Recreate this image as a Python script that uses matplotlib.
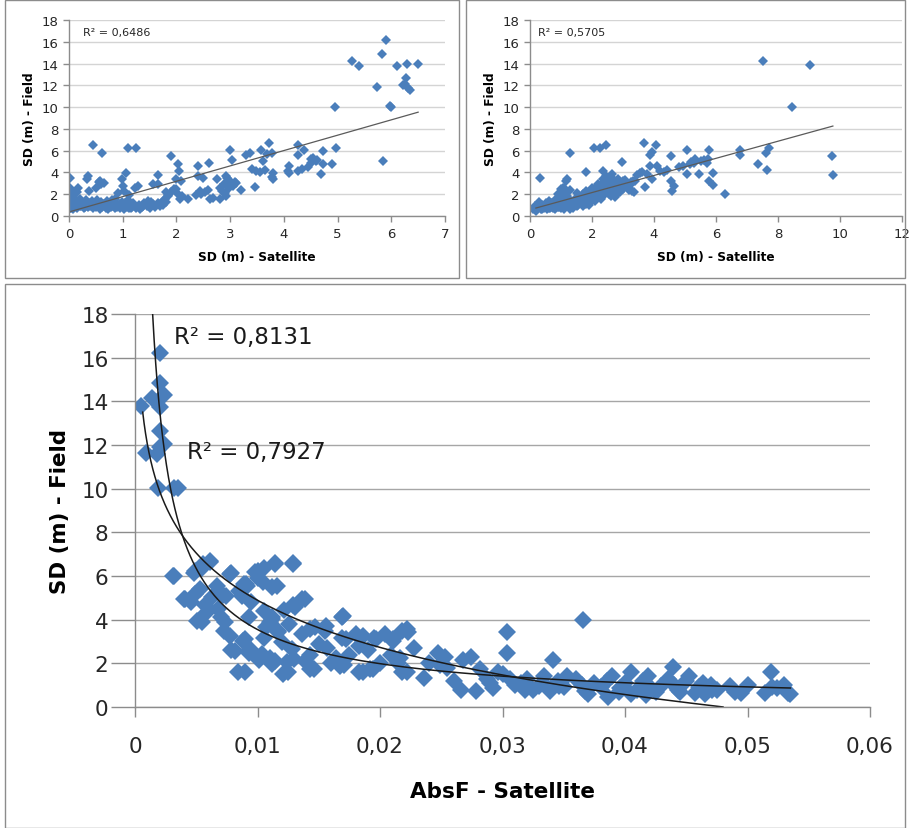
import numpy as np
import matplotlib
matplotlib.use("Agg")
import matplotlib.pyplot as plt
from matplotlib.patches import Rectangle

plt.rcParams['font.family'] = ['DejaVu Sans']

# ---------------- Panel A (top-left) ----------------
a_x = [5.91, 5.82, 5.27, 5.40, 6.10, 6.30, 6.50, 5.73, 6.27, 6.22, 6.31, 6.34, 6.25, 4.95, 5.99, 5.97, 5.85,
       4.97, 4.73, 4.70, 4.90, 4.73, 4.55, 4.60, 4.51, 4.45, 4.62, 4.50, 4.33, 4.27, 4.37, 4.27, 4.27, 4.10, 4.10, 4.08,
       3.73, 3.58, 3.61, 3.77, 3.68, 3.37, 3.29, 3.41, 3.49, 3.46, 3.65, 3.79, 3.79, 3.78, 3.55,
       3.00, 3.04, 2.93, 2.99, 3.09, 2.88, 2.81, 2.84, 2.81, 2.93, 2.68, 3.20, 2.75, 2.95, 3.05, 2.90, 3.10, 2.97,
       2.61, 2.41, 2.50, 2.40, 2.43, 2.37, 2.53, 2.62, 2.45, 2.58,
       2.03, 1.89, 2.04, 2.09, 1.99, 1.95, 2.01, 2.06, 2.22, 1.90, 1.85, 2.00, 2.10,
       1.66, 1.57, 1.81, 1.84, 1.75, 1.60, 1.47, 1.57, 1.78, 1.70, 1.65,
       1.24, 1.09, 1.22, 1.29, 1.06, 1.01, 0.98, 0.91, 1.03, 1.12, 0.85,
       0.45, 0.62, 0.01, 0.35, 0.33, 0.57, 0.60, 0.51, 0.37, 0.17, 0.01, 0.55, 0.14, 0.10, 0.65,
       0.00, 0.00, 0.00, 0.00, 0.02, 0.05, 0.05, 0.08, 0.10, 0.12, 0.15, 0.18, 0.20, 0.22, 0.25, 0.28, 0.30, 0.32,
       0.35, 0.38, 0.40, 0.42, 0.45, 0.48, 0.50, 0.52, 0.55, 0.58, 0.60, 0.62, 0.65, 0.68, 0.70, 0.72, 0.75, 0.78,
       0.80, 0.82, 0.85, 0.88, 0.90, 0.92, 0.95, 0.98, 1.00, 1.02, 1.05, 1.08, 1.10, 1.12, 1.15, 1.18, 1.20, 1.25,
       1.30, 1.35, 1.40, 1.45, 1.50, 1.55, 1.60, 1.65, 1.70, 1.75, 1.80, 0.03, 0.07, 0.12, 0.26, 0.44, 0.70, 0.95,
       1.15, 1.38, 1.52, 0.04, 0.20, 0.30, 0.88, 1.33, 1.48]
a_y = [16.16, 14.85, 14.23, 13.80, 13.80, 14.00, 14.00, 11.85, 12.64, 12.00, 11.75, 11.55, 12.10, 10.04, 10.04, 10.10, 5.05,
       6.20, 6.00, 3.85, 4.75, 4.75, 5.30, 5.05, 4.90, 4.50, 5.15, 5.20, 4.30, 4.10, 6.06, 6.52, 5.60, 4.60, 3.98, 4.10,
       6.67, 6.03, 5.05, 5.75, 5.66, 5.82, 5.60, 4.28, 4.13, 2.65, 4.20, 3.92, 3.37, 3.60, 4.00,
       6.06, 5.14, 3.67, 3.21, 3.12, 2.90, 2.60, 2.30, 1.55, 1.84, 1.68, 2.36, 3.37, 3.50, 2.80, 2.10, 3.00, 2.55,
       4.90, 4.60, 3.46, 3.67, 2.30, 1.90, 2.20, 1.53, 2.05, 2.35,
       4.75, 5.50, 4.13, 3.20, 3.37, 2.45, 2.14, 1.53, 1.60, 2.20, 1.90, 2.50, 1.80,
       3.73, 2.90, 2.20, 1.84, 1.38, 0.92, 1.38, 1.07, 1.60, 1.10, 2.90,
       6.21, 6.21, 2.60, 2.75, 3.98, 2.75, 3.37, 2.14, 2.30, 1.90, 1.60,
       6.52, 5.75, 3.52, 3.67, 3.40, 3.20, 2.90, 2.60, 2.30, 2.60, 2.60, 3.10, 2.20, 1.90, 3.00,
       0.60, 0.90, 1.20, 1.50, 0.70, 1.00, 1.90, 0.80, 1.30, 2.20, 0.70, 1.10, 1.60, 0.90, 1.30, 0.70, 1.00, 1.50,
       0.80, 1.20, 0.90, 1.40, 0.70, 1.10, 0.80, 1.50, 1.00, 0.60, 1.30, 0.80, 1.10, 0.70, 1.00, 0.60, 1.20, 0.80,
       1.50, 0.90, 0.70, 1.20, 0.80, 1.00, 0.70, 1.30, 0.90, 0.60, 1.20, 0.80, 1.50, 0.70, 1.00, 0.80, 1.20, 0.70,
       1.00, 0.80, 1.20, 0.90, 0.70, 1.10, 0.80, 1.20, 0.90, 1.00, 1.30, 1.10, 0.60, 1.60, 1.20, 1.00, 1.40, 1.10,
       0.75, 0.95, 1.30, 0.75, 0.95, 0.85, 1.05, 0.65, 1.15]
a_r2 = "R² = 0,6486"
a_fit = (1.41, 0.37)          # slope, intercept of linear trendline
a_fit_x = (0.0, 6.5)
a_xticks = [0, 1, 2, 3, 4, 5, 6, 7]
a_xticklabels = ['0', '1', '2', '3', '4', '5', '6', '7']

# ---------------- Panel B (top-right) ----------------
b_x = [7.50, 9.04, 8.45, 9.74, 9.77, 7.37, 7.66, 7.70, 7.62, 6.76, 6.76, 6.28, 5.89, 5.90, 5.79, 5.79, 5.70, 5.44,
       5.33, 5.08, 5.06, 4.95, 5.17, 4.54, 4.54, 4.57, 4.65, 4.31, 4.41, 4.06, 3.88, 3.93, 4.09, 3.88, 3.67, 3.72,
       3.55, 3.77, 3.93, 3.33, 3.28, 2.96, 3.01, 2.80, 2.74, 2.85, 2.45, 2.26, 2.05, 1.29, 1.81, 2.37, 2.45, 2.64,
       2.69, 0.32, 1.16, 1.18, 0.97, 0.86, 1.08, 5.60, 5.30, 5.20, 4.80, 4.20, 3.60, 3.45, 5.50, 5.75,
       0.10, 0.15, 0.20, 0.25, 0.30, 0.30, 0.35, 0.40, 0.45, 0.50, 0.50, 0.55, 0.60, 0.60, 0.65, 0.70, 0.75, 0.80,
       0.80, 0.85, 0.90, 0.90, 0.95, 1.00, 1.00, 1.00, 1.05, 1.10, 1.10, 1.15, 1.20, 1.20, 1.25, 1.30, 1.30, 1.35,
       1.40, 1.45, 1.50, 1.50, 1.55, 1.60, 1.65, 1.70, 1.70, 1.75, 1.80, 1.80, 1.85, 1.90, 1.95, 2.00, 2.00, 2.05,
       2.10, 2.10, 2.15, 2.20, 2.20, 2.25, 2.30, 2.30, 2.35, 2.40, 2.40, 2.45, 2.50, 2.50, 2.55, 2.60, 2.60, 2.65,
       2.70, 2.75, 2.80, 2.85, 2.90, 2.95, 3.00, 3.05, 3.10, 3.20, 3.30, 3.35, 3.40, 2.35, 2.45, 2.00, 1.60, 1.20,
       0.70, 0.40, 1.40, 1.90, 1.00, 1.50, 1.30, 1.10, 0.20, 0.60, 0.90, 1.25, 1.55, 1.75, 2.15, 2.55, 2.25,
       0.45, 0.65, 0.85, 1.05, 1.15, 1.35, 1.45, 1.65, 1.85, 1.95, 2.05, 2.15, 2.25, 2.35, 2.45, 2.55, 2.65,
       2.75, 2.85, 2.95, 3.15, 3.25, 1.75, 1.55, 1.35, 0.95, 0.75, 0.55, 2.05, 2.30, 2.60, 3.00]
b_y = [14.23, 13.84, 10.04, 5.51, 3.73, 4.75, 4.22, 6.27, 5.75, 5.57, 6.06, 1.99, 3.98, 2.82, 3.21, 6.03, 4.90, 3.83,
       5.20, 6.06, 3.83, 4.59, 4.75, 5.51, 3.21, 2.30, 2.75, 4.04, 4.22, 6.52, 5.57, 5.88, 4.59, 4.59, 6.67, 2.66,
       3.98, 3.83, 3.37, 3.21, 2.30, 4.96, 3.21, 2.75, 1.84, 2.30, 6.55, 6.27, 6.24, 5.75, 4.04, 4.13, 3.67, 3.83,
       3.21, 3.52, 3.21, 3.37, 2.14, 1.53, 2.60, 5.10, 4.90, 5.00, 4.50, 4.10, 4.00, 3.80, 5.05, 5.20,
       0.60, 0.90, 0.70, 1.10, 0.80, 1.30, 0.60, 1.00, 0.70, 1.20, 0.90, 0.60, 1.40, 1.00, 0.70, 1.20, 0.90, 0.60,
       1.50, 1.10, 0.80, 2.00, 1.30, 0.70, 1.70, 2.50, 1.00, 2.20, 0.60, 1.40, 0.90, 1.80, 1.20, 0.60, 1.50, 0.80,
       1.10, 1.60, 0.90, 1.30, 1.00, 1.70, 1.20, 0.90, 2.00, 1.40, 1.10, 2.30, 1.60, 1.30, 1.90, 1.50, 2.30, 1.80,
       2.60, 1.40, 2.10, 1.70, 2.90, 2.40, 1.60, 2.70, 2.10, 3.10, 1.90, 2.60, 2.20, 3.30, 2.80, 1.80, 3.60, 2.40,
       3.00, 1.70, 2.60, 3.40, 2.20, 2.90, 2.50, 3.30, 2.80, 2.40, 3.00, 2.20, 3.20, 3.40, 3.00, 2.60, 1.40, 1.10,
       0.80, 0.60, 0.70, 1.00, 1.20, 2.10, 2.40, 2.60, 0.50, 0.75, 1.15, 0.95, 1.25, 1.55, 1.85, 2.05, 1.95,
       0.85, 0.95, 1.25, 1.45, 1.00, 1.20, 1.45, 1.35, 1.95, 1.70, 2.15, 2.45, 2.05, 2.55, 2.35, 2.65, 2.95,
       2.45, 2.90, 2.60, 2.70, 3.10, 1.25, 1.15, 1.00, 0.85, 0.70, 0.80, 1.65, 1.85, 2.15, 2.85]
b_r2 = "R² = 0,5705"
b_fit = (0.786, 0.58)
b_fit_x = (0.19, 9.77)
b_xticks = [0, 2, 4, 6, 8, 10, 12]
b_xticklabels = ['0', '2', '4', '6', '8', '10', '12']

# ---------------- Panel C (bottom) ----------------
c_x = [0.00208, 0.0020, 0.00236, 0.00047, 0.00137, 0.0020, 0.0020, 0.00236, 0.0009, 0.0018, 0.0020,
       0.0019, 0.0035, 0.0032, 0.0032, 0.0061, 0.0055, 0.0048, 0.0040, 0.0046, 0.0053, 0.0051, 0.0058,
       0.0070, 0.0073, 0.0078, 0.0084, 0.0067, 0.0078, 0.0072, 0.0087, 0.0091, 0.0098, 0.0105, 0.0114,
       0.0129, 0.0112, 0.0093, 0.0088, 0.0093, 0.0101, 0.0110, 0.0112, 0.0121, 0.0124, 0.0136, 0.0129,
       0.0122, 0.0112, 0.0107, 0.0105, 0.0117, 0.0126, 0.0136, 0.0143, 0.0143, 0.0147, 0.0155, 0.0157,
       0.0169, 0.0164, 0.0171, 0.0169, 0.0180, 0.0183, 0.0183, 0.0192, 0.0195, 0.0204, 0.0211, 0.0218,
       0.0223, 0.0209, 0.0216, 0.0218, 0.0228, 0.0236, 0.0247, 0.0253, 0.0249, 0.0266, 0.0268, 0.0274,
       0.0278, 0.0282, 0.0287, 0.0292, 0.0296, 0.0304, 0.0304, 0.0306, 0.0315, 0.0318, 0.0330, 0.0334,
       0.0341, 0.0339, 0.0346, 0.0353, 0.0366, 0.0367, 0.0375, 0.0386, 0.0389, 0.0396, 0.0405, 0.0410,
       0.0417, 0.0419, 0.0429, 0.0439, 0.0443, 0.0452, 0.0457, 0.0464, 0.0471, 0.0486, 0.0495, 0.0500,
       0.0514, 0.0519, 0.0524, 0.0533,
       0.00313, 0.0049, 0.00612, 0.00557, 0.00776, 0.01007, 0.01143, 0.01293, 0.01048, 0.01157, 0.00912,
       0.0089, 0.00408, 0.0049, 0.00626, 0.0074, 0.00544, 0.00571, 0.0068, 0.00776, 0.00735, 0.00816,
       0.00898, 0.00898, 0.0094, 0.01034, 0.01116, 0.0117, 0.0128, 0.01389, 0.0131, 0.0114, 0.01252,
       0.0139, 0.0146, 0.01425, 0.0156, 0.01694, 0.0167, 0.0172, 0.0186, 0.0186, 0.0197, 0.0194, 0.0211,
       0.0222, 0.0222,
       0.0100, 0.0105, 0.0110, 0.0095, 0.0085, 0.0120, 0.0130, 0.0150, 0.0160, 0.0175, 0.0190, 0.0200,
       0.0215, 0.0240, 0.0255, 0.0260, 0.0290, 0.0300, 0.0310, 0.0320, 0.0325, 0.0335, 0.0345, 0.0350,
       0.0360, 0.0365, 0.0370, 0.0380, 0.0385, 0.0395, 0.0400, 0.0405, 0.0415, 0.0420, 0.0425, 0.0435,
       0.0440, 0.0445, 0.0450, 0.0460, 0.0465, 0.0470, 0.0475, 0.0490, 0.0520, 0.0530, 0.0535]
c_y = [16.2, 14.86, 14.3, 13.8, 14.15, 13.75, 12.64, 12.03, 11.64, 11.6, 11.9,
       10.05, 10.05, 10.05, 6.0, 6.68, 6.36, 6.15, 4.93, 4.8, 5.4, 3.94, 4.29,
       4.13, 3.5, 2.62, 1.59, 5.56, 6.12, 5.12, 5.09, 5.64, 6.2, 6.36, 6.6,
       6.6, 5.48, 4.13, 3.02, 2.46, 2.15, 2.23, 1.99, 1.51, 2.07, 4.93, 4.69,
       4.45, 4.13, 3.66, 3.18, 3.5, 3.82, 3.34, 2.38, 1.75, 3.66, 3.5, 2.7,
       4.13, 2.23, 1.91, 3.18, 3.34, 2.78, 1.59, 1.75, 3.18, 3.34, 3.02, 3.5,
       3.42, 2.38, 2.23, 1.59, 2.7, 1.35, 2.46, 2.3, 1.91, 0.79, 2.15, 2.3,
       0.72, 1.75, 1.27, 0.87, 1.59, 3.42, 2.46, 1.27, 1.11, 0.79, 0.95, 1.43,
       2.15, 0.72, 0.95, 1.43, 3.97, 0.72, 1.11, 0.48, 1.43, 0.87, 1.59, 0.79,
       0.56, 1.43, 0.95, 1.83, 0.79, 1.43, 0.64, 1.11, 0.79, 0.95, 0.64, 1.03,
       0.64, 1.59, 0.87, 0.64,
       6.02, 6.25, 6.63, 6.55, 6.09, 6.25, 6.55, 6.55, 5.71, 5.56, 5.56,
       5.63, 4.95, 5.18, 5.02, 5.1, 3.88, 4.65, 4.49, 3.27, 3.88, 2.58,
       1.59, 3.12, 2.66, 2.43, 4.03, 3.42, 2.66, 4.95, 4.57, 2.12, 1.59,
       2.12, 1.74, 3.57, 3.73, 4.19, 1.9, 3.12, 3.27, 1.59, 3.12, 1.74, 3.12,
       3.57, 1.59,
       5.9, 4.4, 3.9, 4.8, 5.3, 3.0, 2.2, 2.9, 2.0, 2.4, 2.6, 2.0,
       2.0, 2.0, 1.8, 1.2, 1.1, 1.5, 1.0, 1.3, 0.8, 1.0, 1.2, 0.9,
       1.3, 1.0, 0.6, 0.9, 1.2, 0.7, 1.1, 0.6, 1.2, 0.9, 0.7, 1.3,
       1.0, 0.7, 1.2, 0.9, 0.6, 1.0, 0.8, 0.7, 0.9, 1.0, 0.6]
c_r2_pow = "R² = 0,8131"
c_r2_log = "R² = 0,7927"
c_pow = (0.0748, -0.838)       # y = a * x^b
c_pow_x = (0.00144, 0.0535)
c_log = (-9.46, -3.116)        # y = a + b*ln(x)
c_log_x = (0.00063, 0.048)
c_xticks = [0, 0.01, 0.02, 0.03, 0.04, 0.05, 0.06]
c_xticklabels = ['0', '0,01', '0,02', '0,03', '0,04', '0,05', '0,06']
yticks = [0, 2, 4, 6, 8, 10, 12, 14, 16, 18]

BLUE = '#4A7EBB'
W, H = 909, 829
fig = plt.figure(figsize=(W / 100, H / 100), dpi=100)


def box(x0, y0, x1, y1):
    fig.patches.append(Rectangle((x0 / W, 1 - y1 / H), (x1 - x0) / W, (y1 - y0) / H,
                                 transform=fig.transFigure, fill=False,
                                 edgecolor='#8c8c8c', linewidth=1.0))


def axes_px(x0, y0, x1, y1):
    return fig.add_axes([x0 / W, 1 - y1 / H, (x1 - x0) / W, (y1 - y0) / H])


def style(ax, xticks, xlabels, xlim, fs, gridc, ylen, xlen, ypad, xpad):
    ax.set_xlim(*xlim)
    ax.set_ylim(0, 18)
    ax.set_xticks(xticks)
    ax.set_xticklabels(xlabels)
    ax.set_yticks(yticks)
    ax.grid(axis='y', color=gridc, linewidth=1.0)
    ax.set_axisbelow(True)
    for s in ('top', 'right'):
        ax.spines[s].set_visible(False)
    for s in ('left', 'bottom'):
        ax.spines[s].set_color('#8c8c8c')
        ax.spines[s].set_linewidth(1.0)
    ax.tick_params(axis='both', direction='out', width=1.0, color='#8c8c8c',
                   labelsize=fs, labelcolor='#262626')
    ax.tick_params(axis='y', length=ylen, pad=ypad)
    ax.tick_params(axis='x', length=xlen, pad=xpad)


# boxes
box(5, 1, 459, 279)
box(466, 1, 905, 279)
box(5, 285, 905, 829)

# Panel A
axA = axes_px(69, 21, 445, 217)
style(axA, a_xticks, a_xticklabels, (0, 7), 9.5, '#d4d4d4', 4, 4, 3.5, 4)
axA.plot(a_x, a_y, linestyle='none', marker='D', markersize=4.6, color=BLUE, markeredgewidth=0)
fx = np.array(a_fit_x)
axA.plot(fx, a_fit[0] * fx + a_fit[1], color='#5a5a5a', linewidth=0.9)
axA.text(0.26, 16.9, a_r2, fontsize=8, va='center', ha='left', color='#262626')
axA.set_ylabel('SD (m) - Field', fontsize=8.7, fontweight='bold', labelpad=4)
axA.set_xlabel('SD (m) - Satellite', fontsize=8.7, fontweight='bold', labelpad=7)

# Panel B
axB = axes_px(530, 21, 902, 217)
style(axB, b_xticks, b_xticklabels, (0, 12), 9.5, '#d4d4d4', 4, 4, 3.5, 4)
axB.plot(b_x, b_y, linestyle='none', marker='D', markersize=4.6, color=BLUE, markeredgewidth=0)
fx = np.array(b_fit_x)
axB.plot(fx, b_fit[0] * fx + b_fit[1], color='#5a5a5a', linewidth=0.9)
axB.text(0.26, 16.9, b_r2, fontsize=8, va='center', ha='left', color='#262626')
axB.set_ylabel('SD (m) - Field', fontsize=8.7, fontweight='bold', labelpad=4)
axB.set_xlabel('SD (m) - Satellite', fontsize=8.7, fontweight='bold', labelpad=7)

# Panel C
axC = axes_px(135, 315, 870, 708)
style(axC, c_xticks, c_xticklabels, (0, 0.06), 15.5, '#a6a6a6', 17, 7, 2, 14)
axC.plot(c_x, c_y, linestyle='none', marker='D', markersize=8.7, color=BLUE, markeredgewidth=0)
px = np.geomspace(c_pow_x[0], c_pow_x[1], 400)
axC.plot(px, c_pow[0] * px ** c_pow[1], color='#1a1a1a', linewidth=1.1)
lx = np.geomspace(c_log_x[0], c_log_x[1], 400)
axC.plot(lx, c_log[0] + c_log[1] * np.log(lx), color='#1a1a1a', linewidth=1.1)
axC.text(0.00318, 16.95, c_r2_pow, fontsize=16.5, va='center', ha='left', color='#1a1a1a')
axC.text(0.00424, 11.68, c_r2_log, fontsize=16.5, va='center', ha='left', color='#1a1a1a')
axC.set_ylabel('SD (m) - Field', fontsize=15.4, fontweight='bold', labelpad=8)
axC.set_xlabel('AbsF - Satellite', fontsize=15.5, fontweight='bold', labelpad=18)

fig.savefig('out.png', dpi=100, facecolor='white')
